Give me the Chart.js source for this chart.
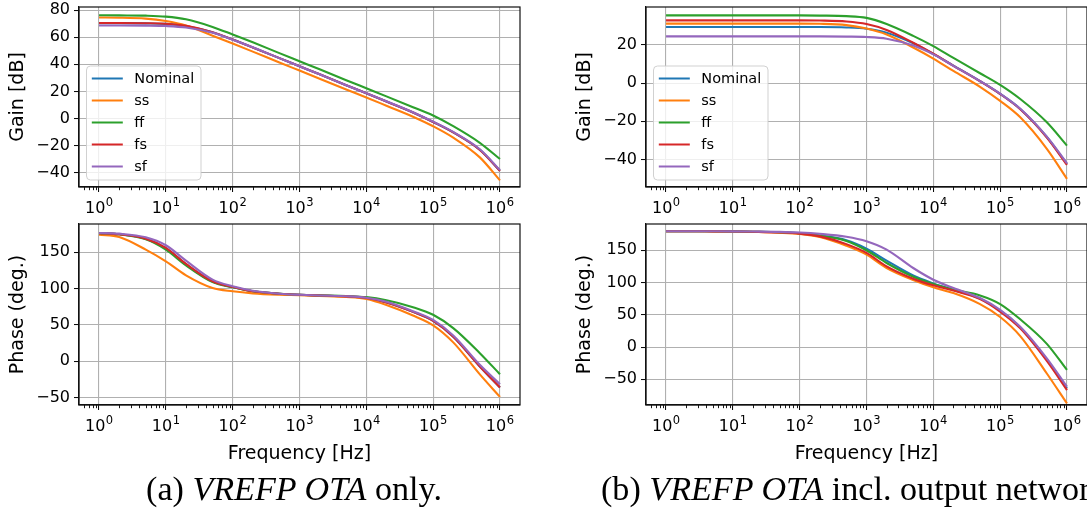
<!DOCTYPE html>
<html><head><meta charset="utf-8">
<script src="https://cdn.jsdelivr.net/npm/chart.js@4/dist/chart.umd.min.js"></script>
<style>
html,body{margin:0;padding:0;background:#fff;width:1087px;height:515px;overflow:hidden;position:relative;}
canvas{position:absolute;}
.cap{position:absolute;font-family:"Liberation Serif","DejaVu Serif",serif;font-size:32px;line-height:32px;white-space:nowrap;color:#000;}
.cap i{font-style:italic;}
</style></head><body>
<canvas id="ag" width="545" height="222" style="left:0;top:0"></canvas>
<canvas id="ap" width="545" height="252" style="left:0;top:218px"></canvas>
<canvas id="bg" width="540" height="222" style="left:560px;top:0"></canvas>
<canvas id="bp" width="540" height="252" style="left:560px;top:218px"></canvas>
<div class="cap" id="capA">(a) <i>VREFP OTA</i> only.</div>
<div class="cap" id="capB">(b) <i>VREFP OTA</i> incl. output network.</div>
<script>
// ---------------- data ----------------
const freq = [1, 2, 5, 10, 20, 50, 100, 200, 500, 1e3, 2e3, 5e3, 1e4, 2e4, 5e4, 1e5, 2e5, 5e5, 1e6];
const seriesNames = ['Nominal', 'ss', 'ff', 'fs', 'sf'];
const seriesColors = ['#1f77b4', '#ff7f0e', '#2ca02c', '#d62728', '#9467bd'];
const xTickExps = [0, 1, 2, 3, 4, 5, 6];

// (a) VREFP OTA only - gain [dB]
const gainA_nominal = [70.5, 70.5, 70.3, 69.9, 68.4, 63.7, 58.3, 52.5, 44.6, 38.6, 32.6, 24.6, 18.6, 12.5, 4.4, -2.6, -10.3, -23.2, -38.7];
const gainA_ss      = [74.6, 74.5, 73.8, 72.0, 68.7, 61.2, 55.4, 49.4, 41.4, 35.4, 29.4, 21.4, 15.5, 9.4, 1.3, -5.8, -14.2, -28.8, -45.8];
const gainA_ff      = [76.3, 76.2, 76.0, 75.3, 73.3, 67.7, 62.1, 56.3, 48.3, 42.3, 36.3, 28.3, 22.3, 16.3, 8.3, 2.2, -5.7, -18.0, -30.0];
const gainA_fs      = [70.6, 70.6, 70.4, 70.0, 68.5, 63.8, 58.3, 52.5, 44.6, 38.6, 32.6, 24.6, 18.6, 12.5, 4.4, -2.6, -10.3, -23.3, -38.8];
const gainA_sf      = [68.7, 68.7, 68.6, 68.3, 67.2, 63.3, 58.2, 52.6, 44.6, 38.6, 32.6, 24.6, 18.7, 12.7, 4.6, -2.4, -10.0, -22.8, -38.2];
// (a) phase [deg]
const phaseA_nominal = [176.5, 174.8, 168.6, 155.5, 133.5, 109.8, 102.2, 96.3, 93.0, 91.5, 90.5, 89.3, 87.2, 81.0, 68.0, 55.6, 33.8, -7.1, -36.1];
const phaseA_ss      = [174.4, 171.0, 153.7, 137.6, 118.3, 100.9, 96.3, 93.5, 91.7, 91.0, 90.0, 88.5, 85.7, 77.5, 63.0, 49.5, 26.0, -18.0, -49.0];
const phaseA_ff      = [176.5, 174.8, 167.9, 153.7, 132.0, 109.0, 101.8, 96.3, 93.0, 91.5, 90.7, 89.8, 88.3, 84.0, 74.5, 64.0, 45.7, 11.2, -17.8];
const phaseA_fs      = [176.5, 174.8, 168.8, 156.0, 134.0, 110.0, 102.3, 96.3, 93.0, 91.5, 90.5, 89.3, 87.2, 81.0, 68.0, 55.6, 33.8, -7.1, -36.1];
const phaseA_sf      = [176.7, 175.7, 170.7, 159.7, 138.5, 112.4, 103.2, 97.2, 93.0, 91.5, 90.5, 89.5, 87.5, 82.0, 69.0, 57.0, 35.6, -4.8, -31.5];

// (b) VREFP OTA incl. output network - gain [dB]
const gainB_nominal = [29.4, 29.4, 29.4, 29.4, 29.4, 29.4, 29.4, 29.4, 29.2, 28.5, 26.4, 20.9, 15.3, 9.2, 1.1, -5.6, -13.5, -28.2, -42.4];
const gainB_ss      = [31.2, 31.2, 31.2, 31.2, 31.2, 31.2, 31.2, 31.1, 30.4, 28.6, 25.5, 18.7, 12.9, 6.4, -1.9, -9.3, -17.9, -34.4, -50.1];
const gainB_ff      = [35.5, 35.5, 35.5, 35.5, 35.5, 35.5, 35.5, 35.4, 35.1, 34.2, 31.0, 24.8, 19.4, 13.2, 5.2, -0.9, -8.3, -20.5, -32.7];
const gainB_fs      = [32.9, 32.9, 32.9, 32.9, 32.9, 32.9, 32.9, 32.8, 32.3, 31.0, 27.9, 21.2, 15.4, 9.1, 1.0, -5.7, -13.7, -28.5, -42.8];
const gainB_sf      = [24.5, 24.5, 24.5, 24.5, 24.5, 24.5, 24.5, 24.5, 24.4, 24.2, 23.3, 19.7, 15.1, 9.1, 1.1, -5.5, -13.4, -28.0, -42.0];
// (b) phase [deg]
const phaseB_nominal = [179.5, 179.5, 179.4, 179.2, 178.8, 178.0, 176.5, 173.0, 165.5, 152.6, 134.0, 111.0, 98.7, 88.5, 75.0, 56.5, 30.5, -19.5, -64.0];
const phaseB_ss      = [179.5, 179.4, 179.3, 179.0, 178.4, 177.2, 175.3, 170.5, 157.0, 143.3, 122.5, 103.9, 92.5, 83.7, 66.5, 46.5, 17.0, -41.0, -87.3];
const phaseB_ff      = [179.5, 179.5, 179.4, 179.2, 178.8, 178.0, 176.3, 172.5, 164.5, 150.0, 130.3, 109.0, 97.7, 89.0, 80.0, 66.6, 43.0, 5.0, -35.5];
const phaseB_fs      = [179.5, 179.5, 179.3, 179.1, 178.6, 177.6, 175.8, 171.5, 159.5, 145.9, 125.1, 106.0, 95.6, 87.5, 74.4, 55.0, 29.0, -21.5, -66.6];
const phaseB_sf      = [179.5, 179.5, 179.4, 179.3, 179.0, 178.5, 177.5, 175.5, 171.0, 164.0, 151.0, 122.5, 104.4, 91.5, 76.0, 57.6, 31.5, -17.4, -61.4];

const gainA_yTicks = [-40, -20, 0, 20, 40, 60, 80];
const phaseA_yTicks = [-50, 0, 50, 100, 150];
const gainB_yTicks = [-40, -20, 0, 20];
const phaseB_yTicks = [-50, 0, 50, 100, 150];

// ---------------- rendering ----------------
Chart.defaults.font.family = '"DejaVu Sans", sans-serif';
Chart.defaults.color = '#000';

const fmtY = v => (v < 0 ? '\u2212' + Math.abs(v) : String(v));
const FONT = '"DejaVu Sans", sans-serif';

const framePlugin = {
  id: 'frame',
  afterDatasetsDraw(chart, args, opts) {
    const {ctx, chartArea: a} = chart;
    const x = chart.scales.x;
    ctx.save();
    // minor ticks on the log axis
    ctx.strokeStyle = '#000';
    ctx.lineWidth = 0.9;
    ctx.beginPath();
    for (let n = -1; n <= 6; n++) {
      for (let k = 2; k <= 9; k++) {
        const v = k * Math.pow(10, n);
        if (v <= x.min || v >= x.max) continue;
        const px = Math.round(x.getPixelForValue(v)) + 0.5;
        ctx.moveTo(px, a.bottom);
        ctx.lineTo(px, a.bottom + 3.2);
      }
    }
    ctx.stroke();
    // x tick labels as 10 with a raised exponent (mathtext style)
    ctx.fillStyle = '#000';
    ctx.textBaseline = 'alphabetic';
    ctx.textAlign = 'left';
    x.ticks.forEach(t => {
      const base = '10';
      const exp = String(Math.round(Math.log10(t.value)));
      ctx.font = '16px ' + FONT;
      const wb = ctx.measureText(base).width;
      ctx.font = '11.5px ' + FONT;
      const we = ctx.measureText(exp).width;
      const px = x.getPixelForValue(t.value);
      const left = px - (wb + we + 0.5) / 2;
      const yb = a.bottom + 26;
      ctx.font = '16px ' + FONT;
      ctx.fillText(base, left, yb);
      ctx.font = '11.5px ' + FONT;
      ctx.fillText(exp, left + wb + 0.5, yb - 7.5);
    });
    // spines
    ctx.lineWidth = 1.2;
    ctx.strokeStyle = '#111';
    ctx.strokeRect(a.left, a.top, a.right - a.left, a.bottom - a.top);
    // legend
    if (opts.legend) {
      const bw = 114.5, bh = 114;
      const bx = a.left + 7.5, by = a.bottom - 7 - bh;
      ctx.beginPath();
      if (ctx.roundRect) ctx.roundRect(bx, by, bw, bh, 4); else ctx.rect(bx, by, bw, bh);
      ctx.fillStyle = 'rgba(255,255,255,0.8)';
      ctx.fill();
      ctx.lineWidth = 1;
      ctx.strokeStyle = 'rgba(204,204,204,0.9)';
      ctx.stroke();
      ctx.font = '14.5px ' + FONT;
      ctx.textBaseline = 'middle';
      ctx.textAlign = 'left';
      chart.data.datasets.forEach((ds, i) => {
        const cy = by + 12.5 + i * 22;
        ctx.beginPath();
        ctx.strokeStyle = ds.borderColor;
        ctx.lineWidth = 2;
        ctx.moveTo(bx + 5.3, cy);
        ctx.lineTo(bx + 36.3, cy);
        ctx.stroke();
        ctx.fillStyle = '#000';
        ctx.fillText(ds.label, bx + 47.8, cy + 1);
      });
    }
    ctx.restore();
  }
};

function buildChart(id, series, o) {
  const datasets = series.map((vals, i) => ({
    label: seriesNames[i],
    data: freq.map((f, j) => ({x: f, y: vals[j]})),
    borderColor: seriesColors[i],
    backgroundColor: seriesColors[i],
    borderWidth: 2.1,
    pointRadius: 0,
    fill: false,
    cubicInterpolationMode: 'monotone',
    order: series.length - i
  }));
  return new Chart(document.getElementById(id), {
    type: 'line',
    data: {datasets},
    plugins: [framePlugin],
    options: {
      responsive: false,
      animation: false,
      events: [],
      layout: {padding: {top: o.padTop, right: o.padRight, left: 0, bottom: 0}},
      plugins: {legend: {display: false}, tooltip: {enabled: false}, frame: {legend: o.legend}},
      scales: {
        x: {
          type: 'logarithmic',
          min: Math.pow(10, -0.3),
          max: Math.pow(10, 6.3),
          afterBuildTicks: s => { s.ticks = xTickExps.map(e => ({value: Math.pow(10, e)})); },
          afterFit: s => { s.height = o.xAxisHeight; s.paddingLeft = 0; s.paddingRight = 0; },
          ticks: {display: false, autoSkip: false, maxRotation: 0},
          grid: {color: '#b0b0b0', lineWidth: 1.1, tickLength: 5, tickColor: '#000', tickWidth: 1},
          border: {display: true, color: '#111', width: 1.2},
          title: {display: !!o.xTitle, text: o.xTitle || '', font: {size: 19}, color: '#000', padding: {top: 0, bottom: o.xTitlePad || 0}}
        },
        y: {
          type: 'linear',
          min: o.ymin,
          max: o.ymax,
          afterBuildTicks: s => { s.ticks = o.yTicks.map(v => ({value: v})); },
          afterFit: s => { s.width = o.yAxisWidth; s.paddingTop = 0; s.paddingBottom = 0; },
          ticks: {callback: v => fmtY(v), font: {size: 16}, color: '#000', padding: 4},
          grid: {color: '#b0b0b0', lineWidth: 1.1, tickLength: 5, tickColor: '#000', tickWidth: 1},
          border: {display: true, color: '#111', width: 1.2},
          title: {display: true, text: o.yTitle, font: {size: 19}, color: '#000', padding: {top: o.yTitlePad, bottom: 0}}
        }
      }
    }
  });
}

buildChart('ag', [gainA_nominal, gainA_ss, gainA_ff, gainA_fs, gainA_sf],
  {ymin: -50.7, ymax: 82.4, yTicks: gainA_yTicks, yTitle: 'Gain [dB]', yTitlePad: 7, yAxisWidth: 79,
   padTop: 7, padRight: 25, xAxisHeight: 35, legend: true});
buildChart('ap', [phaseA_nominal, phaseA_ss, phaseA_ff, phaseA_fs, phaseA_sf],
  {ymin: -60.2, ymax: 189, yTicks: phaseA_yTicks, yTitle: 'Phase (deg.)', yTitlePad: 7, yAxisWidth: 79,
   padTop: 6, padRight: 25, xAxisHeight: 65, xTitle: 'Frequency [Hz]', xTitlePad: 5, legend: false});
buildChart('bg', [gainB_nominal, gainB_ss, gainB_ff, gainB_fs, gainB_sf],
  {ymin: -54.4, ymax: 39.9, yTicks: gainB_yTicks, yTitle: 'Gain [dB]', yTitlePad: 14, yAxisWidth: 86,
   padTop: 7, padRight: 13, xAxisHeight: 35, legend: true});
buildChart('bp', [phaseB_nominal, phaseB_ss, phaseB_ff, phaseB_fs, phaseB_sf],
  {ymin: -89.8, ymax: 190.7, yTicks: phaseB_yTicks, yTitle: 'Phase (deg.)', yTitlePad: 14, yAxisWidth: 86,
   padTop: 6, padRight: 13, xAxisHeight: 65, xTitle: 'Frequency [Hz]', xTitlePad: 5, legend: false});

// captions: size (a) to the reference width, then place both
(function placeCaptions() {
  const a = document.getElementById('capA'), b = document.getElementById('capB');
  const target = 296;
  const w = a.getBoundingClientRect().width;
  const fs = 32 * target / w;
  [a, b].forEach(el => { el.style.fontSize = fs + 'px'; el.style.lineHeight = fs + 'px'; });
  const wa = a.getBoundingClientRect().width;
  a.style.left = (294 - wa / 2) + 'px';
  a.style.top = (489 - fs / 2) + 'px';
  b.style.left = '601px';
  b.style.top = (489 - fs / 2) + 'px';
})();
</script>
</body></html>
